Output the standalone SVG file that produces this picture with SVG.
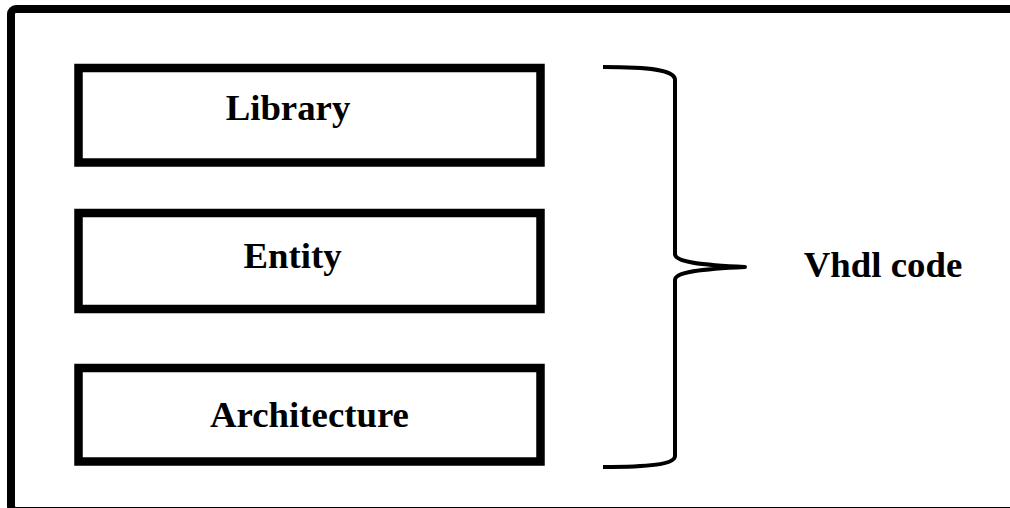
<svg xmlns="http://www.w3.org/2000/svg" width="1010" height="508" viewBox="0 0 1010 508">
  <style>
    .frame { fill: none; stroke: #000; stroke-width: 8; }
    .box { fill: #fff; stroke: #000; stroke-width: 8.5; }
    .label { font-family: "Liberation Serif", "Times New Roman", serif; font-weight: bold; font-size: 36.8px; fill: #000; }
    .brace { fill: none; stroke: #000; stroke-width: 4; stroke-linecap: butt; stroke-linejoin: round; }
  </style>
  <rect width="1010" height="508" fill="#fff"/>
  <!-- outer frame, right and bottom edges run off the page -->
  <rect class="frame" x="11" y="9" width="1010" height="502" rx="5"/>

  <g id="library">
    <rect class="box" x="78.5" y="68" width="462" height="94.5"/>
    <text class="label" x="288" y="120" text-anchor="middle">Library</text>
  </g>
  <g id="entity">
    <rect class="box" x="78.5" y="213" width="462" height="96"/>
    <text class="label" x="292.5" y="268" text-anchor="middle">Entity</text>
  </g>
  <g id="architecture">
    <rect class="box" x="78.5" y="368" width="462" height="93.5"/>
    <text class="label" x="309.5" y="427" text-anchor="middle">Architecture</text>
  </g>

  <g id="connectors">
    <!-- curly brace grouping the three sections -->
    <path class="brace" d="M603,67 C650,67 675,70 675,80 L675,254 C675,262 700,265 745,267 C700,269 675,272 675,280 L675,456 C675,464 650,467 603,467"/>
  </g>

  <g id="vhdl-code">
    <text class="label" x="883" y="277" text-anchor="middle">Vhdl code</text>
  </g>
</svg>
